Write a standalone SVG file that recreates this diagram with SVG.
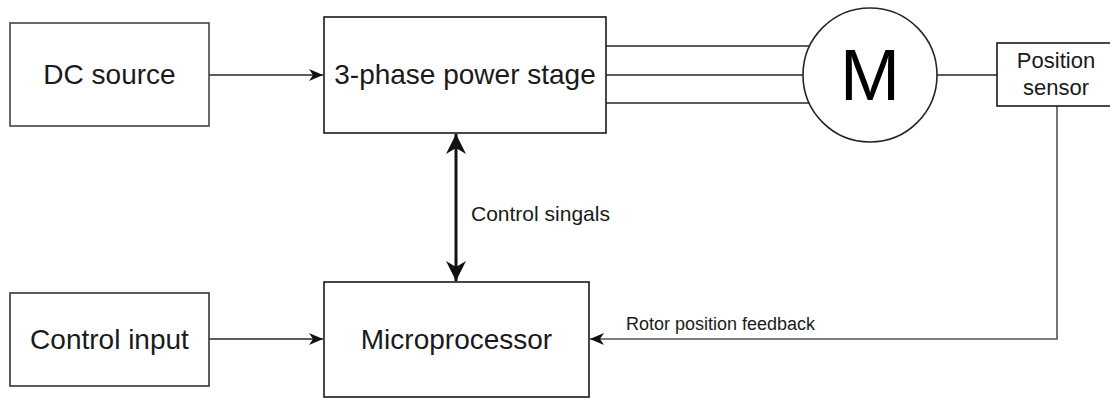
<svg xmlns="http://www.w3.org/2000/svg" width="1110" height="398" viewBox="0 0 1110 398">
<defs>
<style>
.box{fill:#fff;stroke:#1a1a1a;stroke-width:1.6}
.ln{fill:none;stroke:#262626;stroke-width:1.6}
.t{font-family:"Liberation Sans",Arial,sans-serif;fill:#1a1a1a;text-anchor:middle}
.big{font-size:28px}
</style>
<marker id="arr" markerUnits="userSpaceOnUse" markerWidth="16" markerHeight="14" refX="15" refY="7" orient="auto">
<path d="M1,1 L15,7 L1,13 L5,7 z" fill="#111"/>
</marker>
<marker id="arrBig" markerUnits="userSpaceOnUse" markerWidth="22" markerHeight="22" refX="21" refY="11" orient="auto-start-reverse">
<path d="M1,1 L21,11 L1,21 L7,11 z" fill="#111"/>
</marker>
</defs>
<rect width="1110" height="398" fill="#fff"/>
<g id="connectors">
<line class="ln" x1="209" y1="75" x2="323" y2="75" marker-end="url(#arr)"/>
<line class="ln" x1="606" y1="46" x2="810" y2="46"/>
<line class="ln" x1="606" y1="75" x2="803" y2="75"/>
<line class="ln" x1="606" y1="103" x2="810" y2="103"/>
<line class="ln" x1="937" y1="75" x2="997" y2="75"/>
<line x1="456" y1="134" x2="456" y2="281" stroke="#111" stroke-width="3" marker-start="url(#arrBig)" marker-end="url(#arrBig)"/>
<line class="ln" x1="209" y1="339" x2="323" y2="339" marker-end="url(#arr)"/>
<polyline class="ln" points="1057,106 1057,339 590,339" marker-end="url(#arr)" style="stroke:#555"/>
<text x="471" y="221" style="font-family:'Liberation Sans',Arial,sans-serif;font-size:21px;fill:#1a1a1a">Control singals</text>
<text x="626" y="330" style="font-family:'Liberation Sans',Arial,sans-serif;font-size:18px;fill:#1a1a1a">Rotor position feedback</text>
</g>
<g id="dc-source">
<rect class="box" x="10" y="23" width="199" height="103" style="stroke:#444"/>
<text class="t big" x="109.5" y="84">DC source</text>
</g>
<g id="power-stage">
<rect class="box" x="324" y="17" width="282" height="116"/>
<text class="t big" x="465" y="84">3-phase power stage</text>
</g>
<g id="motor">
<circle cx="870" cy="75" r="67" fill="#fff" stroke="#262626" stroke-width="1.6"/>
<text class="t" x="870" y="100" style="font-size:72px;fill:#000">M</text>
</g>
<g id="position-sensor">
<rect class="box" x="997" y="43" width="120" height="63"/>
<text class="t" x="1056" y="68" style="font-size:22px">Position</text>
<text class="t" x="1056" y="95" style="font-size:22px">sensor</text>
</g>
<g id="control-input">
<rect class="box" x="10" y="293" width="199" height="93" style="stroke:#333"/>
<text class="t big" x="109.5" y="349">Control input</text>
</g>
<g id="microprocessor">
<rect class="box" x="324" y="282" width="265" height="115"/>
<text class="t big" x="456.5" y="349">Microprocessor</text>
</g>
</svg>
